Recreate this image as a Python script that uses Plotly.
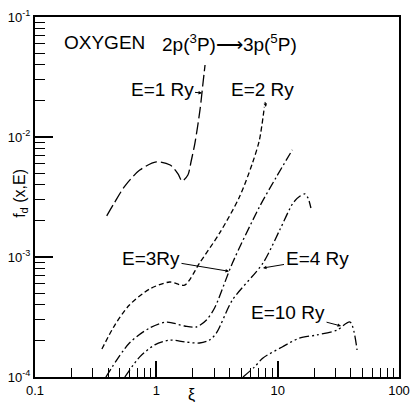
import math
import plotly.graph_objects as go

# ---- data (x = epsilon, y = f_d(x,E)) ----
e1_x = [0.39, 0.455, 0.55, 0.73, 1.0, 1.30, 1.51, 1.63, 1.82, 1.93, 2.08, 2.29, 2.43, 2.52]
e1_y = [2.2e-3, 2.87e-3, 3.9e-3, 5.3e-3, 6.2e-3, 5.84e-3, 4.92e-3, 4.3e-3, 4.82e-3,
        6.19e-3, 8.9e-3, 1.68e-2, 2.87e-2, 3.98e-2]

e2_x = [0.356, 0.455, 0.60, 0.88, 1.29, 1.71, 2.27, 3.32, 4.84, 6.2, 7.07, 7.77]
e2_y = [1.71e-4, 2.71e-4, 3.98e-4, 5.41e-4, 6.19e-4, 5.84e-4, 8.9e-4, 1.58e-3,
        3.16e-3, 6.07e-3, 9.44e-3, 1.78e-2]

e3_x = [0.384, 0.60, 0.88, 1.22, 1.71, 2.14, 2.59, 3.02, 4.24, 7.07, 9.75, 13.2]
e3_y = [1.0e-4, 1.92e-4, 2.56e-4, 2.87e-4, 2.66e-4, 2.61e-4, 2.99e-4, 3.76e-4,
        8.91e-4, 2.61e-3, 4.64e-3, 7.8e-3]

e4_x = [0.55, 0.73, 0.97, 1.29, 1.71, 2.27, 2.74, 3.13, 4.24, 7.57, 10.4, 13.4,
        15.3, 16.8, 17.8, 18.8]
e4_y = [1.0e-4, 1.47e-4, 1.85e-4, 2.03e-4, 1.96e-4, 1.92e-4, 2.03e-4, 2.33e-4,
        4.38e-4, 8.9e-4, 1.68e-3, 2.82e-3, 3.22e-3, 3.35e-3, 3.10e-3, 2.56e-3]

e10_x = [5.18, 6.43, 7.57, 10.9, 15.1, 21.1, 30.8, 39.5, 45.1]
e10_y = [1.0e-4, 1.21e-4, 1.44e-4, 1.78e-4, 2.11e-4, 2.24e-4, 2.46e-4, 2.87e-4, 1.68e-4]

curve_names = ["E=1 Ry", "E=2 Ry", "E=3Ry", "E=4 Ry", "E=10 Ry"]

x_tickvals = [0.1, 1, 10, 100]
x_ticktext = ["0.1", "1", "10", "100"]
y_tickvals = [1e-4, 1e-3, 1e-2, 1e-1]
y_ticktext = ["10<sup>-4</sup>", "10<sup>-3</sup>", "10<sup>-2</sup>", "10<sup>-1</sup>"]

x_minor = [m * 10 ** k for k in (-1, 0, 1) for m in range(2, 10)]
y_minor = [m * 10 ** k for k in (-4, -3, -2) for m in range(2, 10)]

# label arrow targets (data) and text offsets
label_targets = [(2.38, 2.33e-2), (8.0, 1.78e-2), (3.97, 7.6e-4), (7.57, 8.1e-4), (33.3, 2.66e-4)]

FONT = "Liberation Sans, Arial, sans-serif"

series = [
    (e1_x, e1_y, "12px,4px"),
    (e2_x, e2_y, "5px,3px"),
    (e3_x, e3_y, "9px,3px,2px,3px"),
    (e4_x, e4_y, "9px,3px,2px,3px,2px,3px"),
    (e10_x, e10_y, "10px,3px,2px,3px,2px,3px"),
]

fig = go.Figure()
for (xs, ys, dash), name in zip(series, curve_names):
    fig.add_trace(go.Scatter(
        x=xs, y=ys, mode="lines", name=name,
        line=dict(color="black", width=1.3, dash=dash, shape="spline", smoothing=0.8),
        hoverinfo="skip", showlegend=False,
    ))

axis_common = dict(
    type="log", showline=True, linecolor="black", linewidth=2, mirror=True,
    ticks="inside", tickcolor="black", showgrid=False, zeroline=False,
    tickfont=dict(family=FONT, size=13, color="black"),
)

fig.update_layout(
    width=414, height=402,
    margin=dict(l=35, r=15, t=17, b=25, autoexpand=False),
    paper_bgcolor="white", plot_bgcolor="white",
    xaxis=dict(axis_common, range=[-1, 2], tickmode="array", tickvals=x_tickvals,
               ticktext=x_ticktext, ticklen=16, tickwidth=1.5,
               minor=dict(tickmode="array", tickvals=x_minor, ticks="inside",
                          ticklen=9, tickwidth=1.2, tickcolor="black", showgrid=False)),
    yaxis=dict(axis_common, range=[-4, -1], tickmode="array", tickvals=y_tickvals,
               ticktext=y_ticktext, ticklen=18, tickwidth=1.5,
               minor=dict(tickmode="array", tickvals=y_minor, ticks="inside",
                          ticklen=10, tickwidth=1.2, tickcolor="black", showgrid=False)),
)

ann = []
# title
ann.append(dict(text="OXYGEN", xref="paper", yref="paper", x=0.074, y=0.928,
                xanchor="left", yanchor="middle", showarrow=False,
                font=dict(family=FONT, size=19, color="black")))
ann.append(dict(text="2p(<sup>3</sup>P)\u27f63p(<sup>5</sup>P)", xref="paper", yref="paper",
                x=0.343, y=0.928, xanchor="left", yanchor="middle", showarrow=False,
                font=dict(family=FONT, size=19, color="black")))
# axis titles
ann.append(dict(text="f<sub>d</sub> (x,E)", xref="paper", yref="paper", x=-0.04, y=0.51,
                textangle=-90, showarrow=False, xanchor="center", yanchor="middle",
                font=dict(family=FONT, size=16, color="black")))
ann.append(dict(text="\u03be", xref="paper", yref="paper", x=0.4286, y=-0.05,
                showarrow=False, xanchor="center", yanchor="middle",
                font=dict(family=FONT, size=16, color="black")))

offsets = [(-40, -3), (-3, -17), (-78, -13), (54, -9), (-53, -14)]
for name, (tx, ty), (ax, ay) in zip(curve_names, label_targets, offsets):
    ann.append(dict(text=name, xref="x", yref="y", x=math.log10(tx), y=math.log10(ty),
                    ax=ax, ay=ay, showarrow=True, arrowhead=2, arrowsize=0.7,
                    arrowwidth=1, arrowcolor="black", standoff=0,
                    font=dict(family=FONT, size=19, color="black")))

fig.update_layout(annotations=ann)
fig.write_html("out.html", config={"displayModeBar": False},
               post_script="document.body.style.margin='0';document.body.style.overflow='hidden';")
